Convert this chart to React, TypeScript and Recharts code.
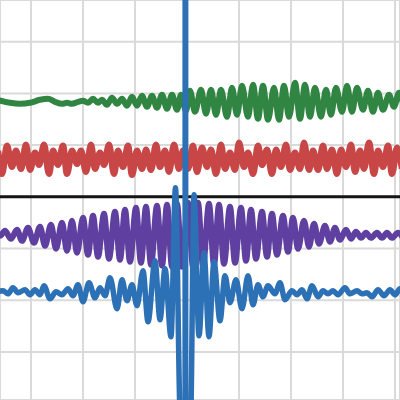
import React from "react";
import { LineChart, Line, XAxis, YAxis, CartesianGrid, ReferenceLine } from "recharts";

// Colors
const greenColor = "#2f8541";
const redColor = "#c84646";
const purpleColor = "#5f3fa0";
const blueColor = "#2c70b5";
const gridColor = "#dadada";

// Grid ticks (time axis centred on the spike, amplitude axis on the zero line)
const xTicks = [-15.6, -10.4, -5.2, 0, 5.2, 10.4, 15.6, 20.8];
const yTicks = [-15.51, -10.34, -5.17, 0, 5.17, 10.34, 15.51];

// [time, amplitude], one pair per turning point
const greenSeries: [number, number][] = [
  [-19.0, 9.7], [-17.7, 9.4], [-16.7, 9.3], [-15.7, 9.4], [-14.7, 9.7], [-13.9, 9.8],
  [-13.2, 9.5], [-12.5, 9.3], [-12.0, 9.4], [-11.5, 9.3], [-10.9, 9.5], [-10.4, 9.6],
  [-9.9, 9.4], [-9.4, 9.8], [-8.9, 9.4], [-8.5, 9.7], [-8.0, 9.2], [-7.5, 9.9],
  [-7.0, 9.3], [-6.5, 9.8], [-6.0, 9.1], [-5.5, 10.0], [-5.0, 9.1], [-4.5, 10.1],
  [-4.0, 9.0], [-3.5, 10.1], [-3.0, 8.9], [-2.5, 10.2], [-2.0, 8.8], [-1.5, 10.2],
  [-1.0, 8.7], [-0.6, 10.2], [-0.1, 8.6],
  [0.3, 10.6], [0.8, 8.5], [1.4, 10.7], [1.9, 8.3], [2.4, 10.7], [2.9, 8.2],
  [3.4, 10.7], [4.0, 8.0], [4.5, 10.9], [5.0, 8.2], [5.5, 11.1], [6.1, 8.0],
  [6.6, 11.2], [7.1, 7.8], [7.6, 11.1], [8.1, 7.7], [8.7, 10.9], [9.2, 7.7],
  [9.7, 11.1], [10.2, 8.0], [10.8, 11.4], [11.3, 7.8], [11.8, 11.2], [12.3, 8.0],
  [12.8, 10.9], [13.4, 8.0], [13.9, 10.7], [14.4, 8.2], [14.9, 10.9], [15.5, 8.5],
  [16.0, 11.1], [16.5, 8.5], [17.0, 10.9], [17.6, 8.7], [18.1, 10.6], [18.6, 8.5],
  [19.1, 10.4], [19.6, 8.7], [20.2, 10.2], [20.7, 9.0], [21.2, 10.4], [21.7, 8.9],
];

const redSeries: [number, number][] = [
  [-18.9, 4.6],
  [-18.5, 2.3], [-18.0, 5.1], [-17.5, 3.0], [-17.1, 4.6], [-16.6, 2.8], [-16.1, 5.2],
  [-15.7, 2.7], [-15.2, 4.4], [-14.8, 3.2], [-14.3, 5.2], [-13.8, 2.3], [-13.4, 4.6],
  [-12.9, 3.2], [-12.4, 5.1], [-12.0, 2.3], [-11.5, 4.6], [-11.0, 3.3], [-10.6, 4.6],
  [-10.1, 2.5], [-9.6, 5.2], [-9.2, 2.8], [-8.7, 4.4], [-8.3, 3.2], [-7.8, 5.2],
  [-7.3, 2.3], [-6.9, 4.6], [-6.4, 3.0], [-5.9, 5.1], [-5.5, 2.2], [-5.0, 4.6],
  [-4.5, 2.8], [-4.1, 4.7], [-3.6, 2.7], [-3.1, 5.2], [-2.7, 3.0], [-2.2, 4.6],
  [-1.8, 2.5], [-1.3, 5.2], [-0.8, 2.8], [-0.4, 4.6], [0.1, 2.8], [0.6, 5.1],
  [1.0, 2.5], [1.5, 4.9], [2.0, 3.0], [2.4, 4.7], [2.9, 2.3], [3.4, 5.2],
  [3.8, 2.8], [4.3, 4.4], [4.8, 2.7], [5.2, 5.4], [5.7, 3.0], [6.1, 4.4],
  [6.6, 2.3], [7.1, 5.1], [7.5, 3.2], [8.0, 4.7], [8.5, 2.3], [8.9, 4.7],
  [9.4, 3.0], [9.9, 5.2], [10.3, 2.7], [10.8, 4.4], [11.3, 2.8], [11.7, 5.4],
  [12.2, 2.7], [12.6, 4.6], [13.1, 2.7], [13.6, 5.1], [14.0, 2.8], [14.5, 4.7],
  [15.0, 2.3], [15.4, 4.7], [15.9, 3.0], [16.4, 5.2], [16.8, 2.5], [17.3, 4.6],
  [17.7, 2.8], [18.2, 5.4], [18.7, 2.3], [19.1, 4.6], [19.6, 3.0], [20.1, 5.1],
  [20.5, 2.3], [21.0, 4.9], [21.5, 2.8],
];

const purpleSeries: [number, number][] = [
  [-19.2, -3.5], [-18.7, -3.9], [-18.2, -3.4], [-17.6, -4.2], [-17.0, -3.3], [-16.5, -4.4],
  [-15.9, -3.1], [-15.3, -4.6], [-14.7, -3.0], [-14.2, -4.9], [-13.6, -2.8], [-13.1, -5.2],
  [-12.5, -2.6], [-12.0, -5.4], [-11.5, -2.4], [-11.0, -5.6], [-10.4, -2.1], [-9.9, -5.8],
  [-9.4, -1.9], [-8.9, -6.0], [-8.3, -1.7], [-7.8, -6.2], [-7.2, -1.5], [-6.7, -6.3],
  [-6.2, -1.3], [-5.7, -6.5], [-5.1, -1.1], [-4.6, -6.6], [-4.1, -1.0], [-3.6, -6.8],
  [-3.0, -0.9], [-2.5, -6.9], [-2.0, -0.8], [-1.5, -7.0], [-1.0, -0.7], [-0.5, -7.0],
  [0.1, -0.6], [0.6, -7.0], [1.1, -0.6], [1.6, -6.9], [2.2, -0.7], [2.7, -6.8],
  [3.2, -0.8], [3.7, -6.7], [4.3, -1.0], [4.8, -6.6], [5.4, -1.1], [5.9, -6.4],
  [6.4, -1.3], [6.9, -6.2], [7.5, -1.5], [8.0, -6.0], [8.5, -1.7], [9.0, -5.8],
  [9.6, -1.9], [10.1, -5.5], [10.6, -2.1], [11.1, -5.2], [11.7, -2.4], [12.2, -5.0],
  [12.7, -2.7], [13.2, -4.7], [13.8, -2.9], [14.3, -4.5], [14.8, -3.1], [15.3, -4.3],
  [15.9, -3.3], [16.4, -4.2], [16.9, -3.5], [17.4, -4.1], [17.9, -3.6], [18.4, -4.1],
  [19.0, -3.6], [19.5, -4.1], [20.0, -3.6], [20.5, -4.1], [21.1, -3.6], [21.6, -4.1],
];

const blueSeries: [number, number][] = [
  [-19.0, -9.5], [-18.4, -9.4], [-17.9, -9.7], [-17.4, -9.1], [-16.9, -9.6], [-16.2, -9.3],
  [-15.7, -9.8], [-15.2, -9.3], [-14.7, -9.8], [-14.3, -8.9], [-13.7, -10.2], [-13.1, -9.5],
  [-12.5, -9.8], [-11.9, -9.2], [-11.4, -9.9], [-10.9, -8.8], [-10.4, -10.5], [-9.8, -8.6],
  [-9.2, -10.1], [-8.7, -9.1], [-8.2, -9.9], [-7.7, -8.1], [-7.0, -11.2], [-6.5, -8.3],
  [-6.0, -10.4], [-5.5, -8.8], [-5.0, -10.9], [-4.4, -7.4], [-3.9, -12.5], [-3.2, -6.4],
  [-2.7, -12.3], [-2.2, -7.2], [-1.6, -14.0], [-1.15, 0.9], [-0.65, -22.5], [-0.4, -21.5],
  [-0.21, -500], [-0.16, 500], [-0.11, -500],
  [0.1, -21.5], [0.35, -22.5], [0.7, 0.2], [1.2, -13.9], [1.7, -5.6], [2.2, -14.0],
  [2.7, -6.5], [3.3, -12.4], [3.8, -7.9], [4.3, -10.6], [4.9, -8.3], [5.5, -11.2],
  [6.1, -7.9], [6.6, -10.8], [7.1, -8.8], [7.6, -10.0], [8.1, -8.9], [8.8, -9.7],
  [9.3, -8.6], [9.8, -10.3], [10.5, -9.4], [11.0, -9.8], [11.5, -9.3], [12.0, -10.2],
  [12.5, -8.9], [13.1, -10.0], [13.6, -9.4], [14.1, -9.7], [14.6, -9.4], [15.1, -9.8],
  [15.8, -9.1], [16.3, -9.7], [17.0, -9.4], [17.5, -9.7], [18.0, -9.6], [18.5, -10.0],
  [19.1, -9.3], [19.7, -9.9], [20.3, -9.3], [20.8, -9.8], [21.3, -9.2], [21.8, -9.7],
];

const toPoints = (series: [number, number][]) => series.map(([x, y]) => ({ x, y }));

const App: React.FC = () => {
  const lines = [
    { key: "green", data: toPoints(greenSeries), color: greenColor, width: 6 },
    { key: "red", data: toPoints(redSeries), color: redColor, width: 6.5 },
    { key: "purple", data: toPoints(purpleSeries), color: purpleColor, width: 6 },
    { key: "blue", data: toPoints(blueSeries), color: blueColor, width: 5.5 },
  ];

  return (
    <div style={{ position: "fixed", left: 0, top: 0, background: "#fff" }}>
      <LineChart width={400} height={400} margin={{ top: 0, right: 0, bottom: 0, left: 0 }}>
        <CartesianGrid stroke={gridColor} strokeWidth={2} />
        <XAxis
          type="number"
          dataKey="x"
          domain={[-18.7, 21.3]}
          ticks={xTicks}
          allowDataOverflow
          hide
        />
        <YAxis type="number" domain={[-20.32, 19.68]} ticks={yTicks} allowDataOverflow hide />
        <ReferenceLine y={0} stroke="#141414" strokeWidth={3} />
        {lines.map((l) => (
          <Line
            key={l.key}
            data={l.data}
            dataKey="y"
            type="monotone"
            stroke={l.color}
            strokeWidth={l.width}
            dot={false}
            activeDot={false}
            isAnimationActive={false}
          />
        ))}
      </LineChart>
    </div>
  );
};

export default App;
